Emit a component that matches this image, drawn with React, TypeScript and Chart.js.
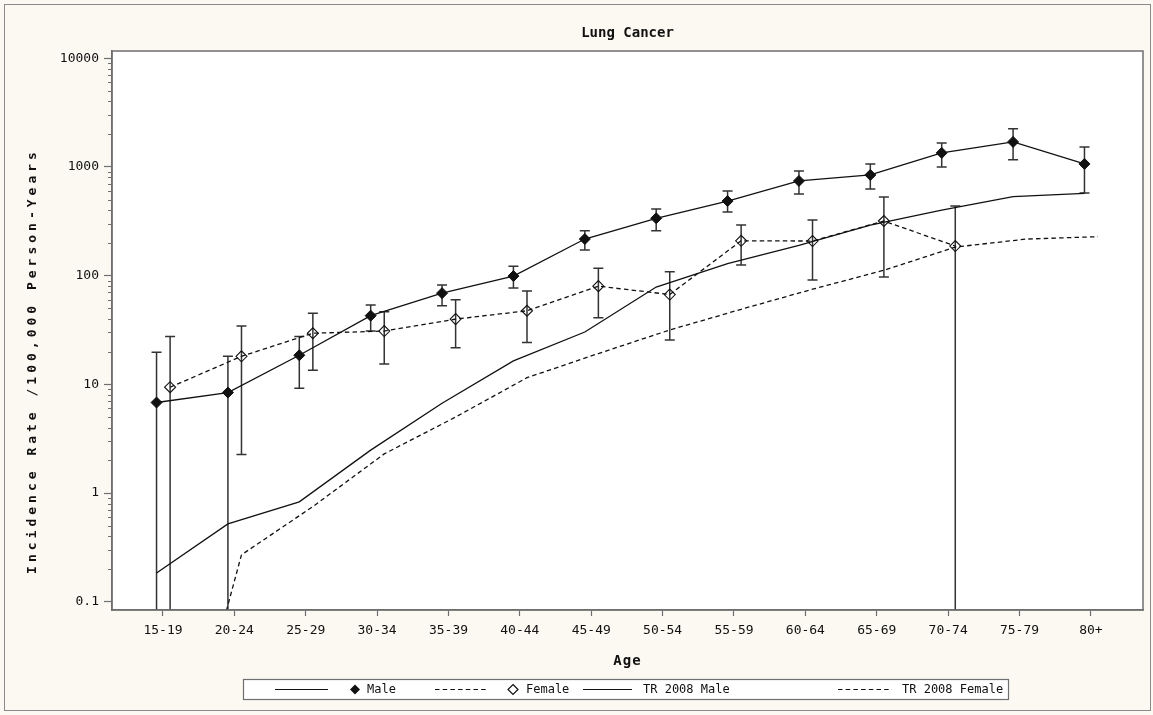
import React, { useEffect, useRef } from 'react';
import { Chart, registerables } from 'chart.js';
Chart.register(...registerables);

const ageGroups = ['15-19', '20-24', '25-29', '30-34', '35-39', '40-44', '45-49', '50-54', '55-59', '60-64', '65-69', '70-74', '75-79', '80+'];
const maleRate = [6.8, 8.4, 18.5, 42.8, 69, 99, 217, 337, 485, 743, 843, 1346, 1698, 1066];
const maleUpper = [19.7, 18.1, 27.6, 53.7, 82, 122, 259, 410, 601, 918, 1066, 1663, 2240, 1528];
const maleLower = [0, 0, 9.2, 30.9, 52.8, 77, 172, 259, 385, 564, 627, 1000, 1161, 575];
const femaleRate = [9.4, 18.1, 29.5, 30.9, 39.8, 47.5, 80, 67, 209, 208, 318, 187, null, null];
const femaleUpper = [27.6, 34.3, 45, 46.6, 60, 72, 117, 108.6, 292, 325, 529, 437, null, null];
const femaleLower = [0, 2.26, 13.5, 15.4, 21.7, 24.3, 41, 25.6, 125, 91, 97, 0, null, null];
const trMale = [0.184, 0.52, 0.83, 2.48, 6.7, 16.4, 30.3, 78.5, 129, 190, 292, 401, 532, 572];
const trFemale = [0.001, 0.27, 0.75, 2.29, 5.0, 11.5, 19.2, 31.6, 49, 75, 112, 183, 217, 228];
const yTickValues = [0.1, 1, 10, 100, 1000, 10000];
const yTickLabels = ['0.1', '1', '10', '100', '1000', '10000'];

const chartTitle = 'Lung Cancer';
const xTitle = 'Age';
const yTitle = 'Incidence Rate /100,000 Person-Years';
const legendLabels = ['Male', 'Female', 'TR 2008 Male', 'TR 2008 Female'];

const MALE_OFF = -0.09;
const FEMALE_OFF = 0.1;
const MONO = '"DejaVu Sans Mono", monospace';
const INK = '#111111';
const AXIS = '#6f6f6f';
const DASH = [4.5, 3.2];

const toPts = (arr: (number | null)[], off: number) =>
  arr.map((v, i) => ({ x: i + off, y: v as any }));

const errorBars = [
  { upper: maleUpper, lower: maleLower, off: MALE_OFF },
  { upper: femaleUpper, lower: femaleLower, off: FEMALE_OFF },
];

const decorPlugin = {
  id: 'decor',
  beforeDraw(chart: any) {
    const { ctx, chartArea: a } = chart;
    ctx.save();
    ctx.fillStyle = '#ffffff';
    ctx.fillRect(a.left, a.top, a.right - a.left, a.bottom - a.top);
    ctx.restore();
  },
  beforeDatasetsDraw(chart: any) {
    const { ctx, chartArea: a, scales } = chart;
    const xs = scales.x, ys = scales.y;
    ctx.save();
    ctx.beginPath();
    ctx.rect(a.left, a.top, a.right - a.left, a.bottom - a.top);
    ctx.clip();
    ctx.strokeStyle = '#333';
    ctx.lineWidth = 1.5;
    for (const eb of errorBars) {
      eb.upper.forEach((u, i) => {
        if (u == null) return;
        const lo = eb.lower[i] as number;
        const x = xs.getPixelForValue(i + eb.off);
        const yU = ys.getPixelForValue(u);
        const yL = lo > 0 ? ys.getPixelForValue(lo) : a.bottom + 5;
        ctx.beginPath();
        ctx.moveTo(x, yU);
        ctx.lineTo(x, yL);
        ctx.moveTo(x - 5, yU);
        ctx.lineTo(x + 5, yU);
        if (lo > 0) {
          ctx.moveTo(x - 5, yL);
          ctx.lineTo(x + 5, yL);
        }
        ctx.stroke();
      });
    }
    ctx.restore();
  },
  afterDraw(chart: any) {
    const { ctx, chartArea: a, scales } = chart;
    const ys = scales.y;
    ctx.save();
    ctx.strokeStyle = AXIS;
    ctx.lineWidth = 1.5;
    ctx.strokeRect(a.left, a.top, a.right - a.left, a.bottom - a.top);
    ctx.lineWidth = 1;
    ctx.beginPath();
    for (let d = 0; d < yTickValues.length - 1; d++) {
      for (let k = 2; k <= 9; k++) {
        const y = Math.round(ys.getPixelForValue(yTickValues[d] * k)) + 0.5;
        ctx.moveTo(a.left - 4, y);
        ctx.lineTo(a.left, y);
      }
    }
    ctx.stroke();

    ctx.fillStyle = INK;
    ctx.textAlign = 'center';
    ctx.textBaseline = 'middle';
    ctx.font = `bold 14px ${MONO}`;
    ctx.fillText(chartTitle, (a.left + a.right) / 2, 33);
    (ctx as any).letterSpacing = '1px';
    ctx.fillText(xTitle, (a.left + a.right) / 2, 661);
    ctx.save();
    ctx.translate(33, 361);
    ctx.rotate(-Math.PI / 2);
    ctx.font = `bold 13px ${MONO}`;
    (ctx as any).letterSpacing = '4px';
    ctx.fillText(yTitle, 0, 0);
    ctx.restore();
    (ctx as any).letterSpacing = '0px';

    const bx = 243, by = 679, bw = 765, bh = 20;
    ctx.fillStyle = '#ffffff';
    ctx.fillRect(bx, by, bw, bh);
    ctx.strokeStyle = AXIS;
    ctx.lineWidth = 1.2;
    ctx.strokeRect(bx + 0.5, by + 0.5, bw, bh);
    const cy = by + bh / 2 + 0.5;
    ctx.strokeStyle = INK;
    ctx.lineWidth = 1.2;
    const seg = (x0: number, x1: number, dashed: boolean) => {
      ctx.save();
      ctx.setLineDash(dashed ? DASH : []);
      ctx.beginPath();
      ctx.moveTo(x0, cy);
      ctx.lineTo(x1, cy);
      ctx.stroke();
      ctx.restore();
    };
    const diamond = (x: number, filled: boolean) => {
      ctx.beginPath();
      ctx.moveTo(x, cy - 5);
      ctx.lineTo(x + 5, cy);
      ctx.lineTo(x, cy + 5);
      ctx.lineTo(x - 5, cy);
      ctx.closePath();
      if (filled) {
        ctx.fillStyle = INK;
        ctx.fill();
      } else {
        ctx.stroke();
      }
    };
    ctx.font = `12px ${MONO}`;
    ctx.textAlign = 'left';
    seg(275, 328, false);
    diamond(355, true);
    ctx.fillStyle = INK;
    ctx.fillText(legendLabels[0], 367, cy);
    seg(435, 488, true);
    diamond(513, false);
    ctx.fillText(legendLabels[1], 526, cy);
    seg(583, 632, false);
    ctx.fillText(legendLabels[2], 643, cy);
    seg(838, 892, true);
    ctx.fillText(legendLabels[3], 902, cy);
    ctx.restore();
  },
};

export default function App() {
  const ref = useRef<HTMLCanvasElement | null>(null);
  useEffect(() => {
    if (!ref.current) return;
    const lineBase = { borderColor: INK, borderWidth: 1.3, fill: false, tension: 0, spanGaps: false };
    const chart = new Chart(ref.current, {
      type: 'line',
      data: {
        datasets: [
          {
            ...lineBase,
            label: legendLabels[0],
            data: toPts(maleRate, MALE_OFF),
            pointStyle: 'rectRot',
            pointRadius: 5.5,
            pointBackgroundColor: INK,
            pointBorderColor: INK,
            pointBorderWidth: 1,
          },
          {
            ...lineBase,
            label: legendLabels[1],
            data: toPts(femaleRate, FEMALE_OFF),
            borderDash: DASH,
            pointStyle: 'rectRot',
            pointRadius: 5.5,
            pointBackgroundColor: 'rgba(255,255,255,0)',
            pointBorderColor: INK,
            pointBorderWidth: 1.1,
          },
          {
            ...lineBase,
            label: legendLabels[2],
            data: toPts(trMale, MALE_OFF),
            pointRadius: 0,
          },
          {
            ...lineBase,
            label: legendLabels[3],
            data: toPts(trFemale, FEMALE_OFF),
            borderDash: DASH,
            pointRadius: 0,
          },
        ],
      } as any,
      options: {
        responsive: false,
        animation: false,
        devicePixelRatio: 1,
        layout: { padding: { top: 51, right: 10, left: 0, bottom: 0 } },
        plugins: { legend: { display: false }, title: { display: false }, tooltip: { enabled: false } },
        scales: {
          x: {
            type: 'linear',
            min: -0.714,
            max: 13.73,
            afterBuildTicks: (s: any) => {
              s.ticks = ageGroups.map((_, i) => ({ value: i }));
            },
            afterFit: (s: any) => {
              s.height = 105;
            },
            ticks: {
              autoSkip: false,
              maxRotation: 0,
              padding: 7,
              color: INK,
              font: { family: MONO, size: 13 },
              callback: (v: any) => ageGroups[v as number] ?? '',
            },
            grid: { drawOnChartArea: false, drawTicks: true, tickLength: 6, tickColor: AXIS, tickWidth: 1.2 },
            border: { color: AXIS, width: 1.5 },
          },
          y: {
            type: 'logarithmic',
            min: 0.0839,
            max: 11650,
            afterBuildTicks: (s: any) => {
              s.ticks = yTickValues.map((v) => ({ value: v }));
            },
            afterFit: (s: any) => {
              s.width = 112;
            },
            ticks: {
              autoSkip: false,
              padding: 5,
              color: INK,
              font: { family: MONO, size: 13 },
              callback: (v: any) => {
                const i = yTickValues.indexOf(v as number);
                return i >= 0 ? yTickLabels[i] : '';
              },
            },
            grid: { drawOnChartArea: false, drawTicks: true, tickLength: 8, tickColor: AXIS, tickWidth: 1.2 },
            border: { color: AXIS, width: 1.5 },
          },
        },
      } as any,
      plugins: [decorPlugin],
    });
    return () => chart.destroy();
  }, []);
  return (
    <div style={{ position: 'fixed', left: 0, top: 0, width: 1153, height: 715, background: '#fbf9f2' }}>
      <div
        style={{
          position: 'absolute',
          left: 4,
          top: 4,
          width: 1145,
          height: 705,
          border: '1.5px solid #8a8a8a',
        }}
      />
      <canvas ref={ref} width={1153} height={715} style={{ position: 'absolute', left: 0, top: 0 }} />
    </div>
  );
}
